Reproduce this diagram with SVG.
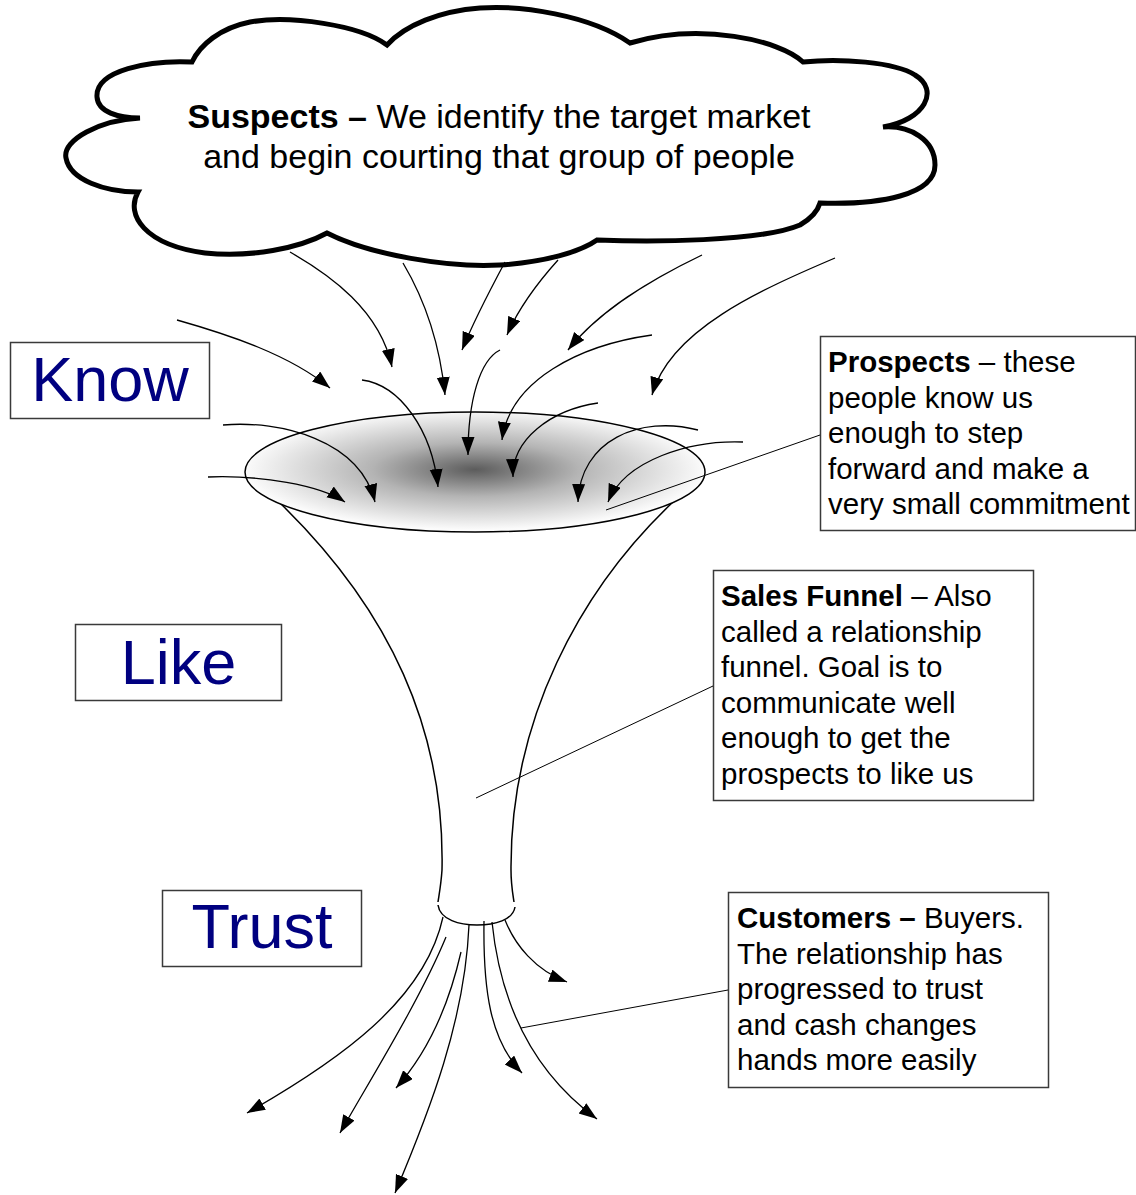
<svg xmlns="http://www.w3.org/2000/svg" width="1136" height="1195" viewBox="0 0 1136 1195">
<style>
.box{fill:#fff;stroke:#3a3a3a;stroke-width:1.5}
.t{font-family:"Liberation Sans",Arial,sans-serif;font-size:29.5px;fill:#000}
.big{font-family:"Liberation Sans",Arial,sans-serif;font-size:63px;fill:#000080;text-anchor:middle}
.arr{fill:none;stroke:#000;stroke-width:1.3;marker-end:url(#ah)}
.lead{fill:none;stroke:#000;stroke-width:1}
.fl{fill:none;stroke:#000;stroke-width:1.5}
</style>
<defs>
<marker id="ah" markerUnits="userSpaceOnUse" markerWidth="19" markerHeight="14" refX="18" refY="6.5" orient="auto" viewBox="0 0 19 14">
<path d="M0,0 L18,6.5 L0,13 Z" fill="#000"/>
</marker>
<radialGradient id="fg" cx="0.5" cy="0.48" r="0.5">
<stop offset="0" stop-color="#5c5c5c"/>
<stop offset="0.45" stop-color="#b4b4b4"/>
<stop offset="1" stop-color="#fbfbfb"/>
</radialGradient>
</defs>
<rect width="1136" height="1195" fill="#fff"/>

<g id="cloud">
<path d="M192,62 C150,60 95,70 97,97 C98,112 118,118 140,118 C100,120 62,140 66,158 C70,180 105,192 138,192 C125,215 145,245 205,253 C250,258 300,248 327,233 C370,255 450,268 500,265 C545,262 580,252 597,240 C650,242 760,242 800,225 C812,218 818,210 820,203 C880,205 935,195 935,165 C935,140 910,125 883,127 C925,120 940,90 915,75 C895,62 840,58 803,62 C780,40 700,22 630,43 C590,15 520,5 480,8 C440,11 405,25 387,45 C360,25 290,15 250,22 C220,28 200,45 192,62 Z" fill="#fff" stroke="#000" stroke-width="5" stroke-linejoin="miter"/>
<text font-family="'Liberation Sans',Arial,sans-serif" font-size="34" text-anchor="middle"><tspan x="499" y="128"><tspan font-weight="bold">Suspects –</tspan> We identify the target market</tspan><tspan x="499" y="168">and begin courting that group of people</tspan></text>
</g>

<g id="funnel">
<path class="fl" d="M280,503 C390,610 445,730 442,870 C441,885 439,895 438,902"/>
<path class="fl" d="M673,502 C580,590 510,720 511,870 C511,885 513,895 514,902"/>
<path class="fl" d="M438,905 C440,920 460,925 477,925 C495,925 513,920 515,907"/>
<ellipse cx="475" cy="472" rx="230" ry="60" fill="url(#fg)" stroke="#000" stroke-width="1.5"/>
</g>

<g id="know"><rect class="box" x="10.5" y="342.5" width="199" height="76"/><text class="big" x="110" y="401">Know</text></g>
<g id="like"><rect class="box" x="75.5" y="624.5" width="206" height="76"/><text class="big" x="178.5" y="684">Like</text></g>
<g id="trust"><rect class="box" x="162.5" y="890.5" width="199" height="76"/><text class="big" x="262" y="948">Trust</text></g>

<g id="prospects"><rect class="box" x="820.5" y="336.5" width="315" height="194"/>
<text class="t"><tspan x="828" y="372"><tspan font-weight="bold">Prospects</tspan> – these</tspan><tspan x="828" y="407.5">people know us</tspan><tspan x="828" y="443">enough to step</tspan><tspan x="828" y="478.5">forward and make a</tspan><tspan x="828" y="514">very small commitment</tspan></text></g>

<g id="salesfunnel"><rect class="box" x="713.5" y="570.5" width="320" height="230"/>
<text class="t"><tspan x="721" y="606"><tspan font-weight="bold">Sales Funnel</tspan> – Also</tspan><tspan x="721" y="641.5">called a relationship</tspan><tspan x="721" y="677">funnel. Goal is to</tspan><tspan x="721" y="712.5">communicate well</tspan><tspan x="721" y="748">enough to get the</tspan><tspan x="721" y="783.5">prospects to like us</tspan></text></g>

<g id="customers"><rect class="box" x="728.5" y="892.5" width="320" height="195"/>
<text class="t"><tspan x="737" y="928"><tspan font-weight="bold">Customers –</tspan> Buyers.</tspan><tspan x="737" y="963.5">The relationship has</tspan><tspan x="737" y="999">progressed to trust</tspan><tspan x="737" y="1034.5">and cash changes</tspan><tspan x="737" y="1070">hands more easily</tspan></text></g>

<g id="connectors">
<path class="arr" d="M290,252 C330,275 380,310 392,367"/>
<path class="arr" d="M403,263 C425,300 440,345 445,395"/>
<path class="arr" d="M505,262 C490,290 475,318 462,350"/>
<path class="arr" d="M177,320 C230,335 290,355 330,388"/>
<path class="arr" d="M362,380 C400,385 432,430 438,487"/>
<path class="arr" d="M500,350 C480,360 468,400 468,455"/>
<path class="arr" d="M223,425 C280,420 360,440 375,502"/>
<path class="arr" d="M208,477 C260,475 320,485 345,502"/>
<path class="arr" d="M558,260 C540,280 520,305 507,335"/>
<path class="arr" d="M702,255 C650,280 600,310 568,350"/>
<path class="arr" d="M835,258 C760,290 670,330 652,395"/>
<path class="arr" d="M652,335 C580,345 510,380 502,440"/>
<path class="arr" d="M598,403 C550,410 512,440 513,477"/>
<path class="arr" d="M698,430 C640,415 580,440 578,502"/>
<path class="arr" d="M743,442 C690,440 625,460 608,502"/>
<path class="arr" d="M443,917 C425,1000 340,1060 247,1113"/>
<path class="arr" d="M446,937 C420,1000 370,1080 340,1133"/>
<path class="arr" d="M461,952 C450,1000 430,1050 396,1088"/>
<path class="arr" d="M469,925 C465,1020 430,1110 395,1193"/>
<path class="arr" d="M484,921 C483,990 490,1040 522,1073"/>
<path class="arr" d="M492,922 C500,1000 530,1070 597,1119"/>
<path class="arr" d="M505,920 C515,945 535,970 567,982"/>
<path class="lead" d="M820,435 L606,510"/>
<path class="lead" d="M713,686 L476,798"/>
<path class="lead" d="M728,990 L521,1028"/>
</g>
</svg>
